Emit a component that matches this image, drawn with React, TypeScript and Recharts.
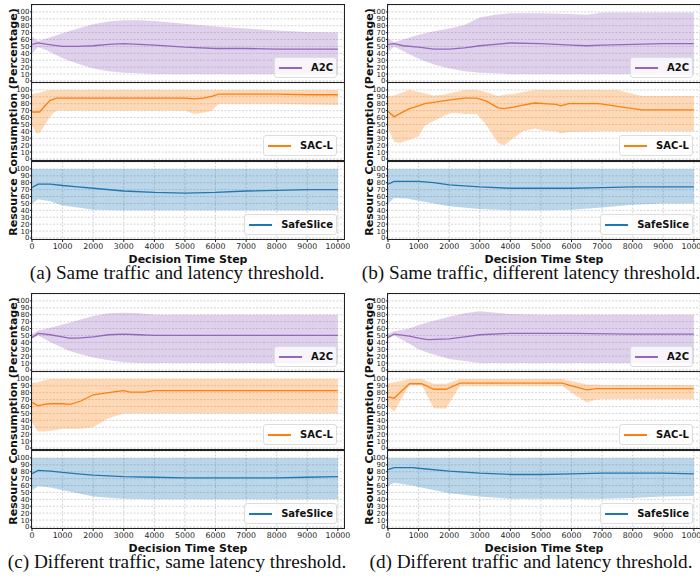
import React from "react";
import { ComposedChart, Area, Line, XAxis, YAxis, CartesianGrid } from "recharts";

/* -----------------------------
   Axis ticks
----------------------------- */
const xTicks = [0, 1000, 2000, 3000, 4000, 5000, 6000, 7000, 8000, 9000, 10000];
const yTicks = [0, 10, 20, 30, 40, 50, 60, 70, 80, 90, 100];

/* -----------------------------
   (a) same traffic and latency threshold
----------------------------- */
const aA2cSteps = [0, 200, 500, 1000, 1500, 2000, 2500, 3000, 3500, 4000, 5000, 6000, 7000, 8000, 9000, 10000];
const aA2cMean = [53, 55, 53, 50, 50, 51, 53, 54, 53, 52, 49, 47, 47, 46, 46, 46];
const aA2cLow = [40, 49, 44, 33, 25, 18, 14, 12, 11, 10, 10, 10, 10, 10, 10, 10];
const aA2cHigh = [64, 58, 62, 69, 76, 82, 86, 88, 88, 87, 83, 79, 76, 73, 71, 70];

const aSacSteps = [0, 150, 250, 400, 600, 800, 1000, 2000, 3000, 4000, 5000, 5300, 5600, 5900, 6100, 6300, 7000, 8000, 9000, 10000];
const aSacMean = [68, 68, 68, 76, 85, 88, 88, 88, 88, 88, 88, 87, 88, 91, 94, 94, 94, 94, 93, 93];
const aSacLow = [48, 37, 38, 48, 62, 70, 70, 70, 70, 70, 70, 65, 67, 70, 80, 80, 80, 80, 79, 78];
const aSacHigh = [94, 95, 96, 98, 100, 100, 100, 100, 100, 100, 100, 100, 100, 100, 100, 100, 100, 100, 100, 100];

const aSafeSteps = [0, 200, 600, 1000, 1500, 2000, 3000, 4000, 5000, 6000, 7000, 8000, 9000, 10000];
const aSafeMean = [73, 78, 78, 76, 74, 72, 68, 66, 65, 66, 68, 69, 70, 70];
const aSafeLow = [50, 56, 53, 47, 44, 41, 40, 40, 40, 40, 40, 40, 40, 40];
const aSafeHigh = [100, 100, 100, 100, 100, 100, 100, 100, 100, 100, 100, 100, 100, 100];

/* -----------------------------
   (b) same traffic, different latency threshold
----------------------------- */
const bA2cSteps = [0, 200, 500, 1000, 1500, 2000, 2500, 3000, 3500, 4000, 5000, 6000, 6500, 7000, 8000, 9000, 10000];
const bA2cMean = [53, 54, 51, 49, 46, 46, 48, 51, 53, 55, 54, 52, 51, 52, 53, 54, 54];
const bA2cLow = [42, 50, 43, 32, 24, 18, 14, 12, 11, 10, 10, 10, 10, 10, 10, 10, 10];
const bA2cHigh = [62, 56, 60, 67, 72, 76, 81, 92, 96, 98, 98, 97, 96, 99, 99, 99, 99];

const bSacSteps = [0, 200, 400, 700, 1000, 1200, 1500, 1800, 2100, 2500, 2900, 3200, 3600, 3800, 4100, 4400, 4800, 5100, 5500, 5650, 5900, 6900, 7500, 8300, 9000, 10000];
const bSacMean = [69, 61, 66, 73, 77, 80, 82, 84, 86, 88, 88, 84, 74, 73, 75, 78, 81, 80, 79, 77, 80, 80, 76, 71, 71, 71];
const bSacLow = [45, 25, 23, 28, 33, 48, 55, 62, 67, 65, 65, 50, 23, 20, 30, 40, 44, 41, 40, 37, 39, 40, 40, 40, 40, 40];
const bSacHigh = [91, 92, 95, 100, 97, 95, 92, 93, 96, 100, 100, 97, 91, 93, 94, 97, 100, 100, 100, 100, 100, 100, 100, 91, 91, 91];

const bSafeSteps = [0, 200, 600, 1000, 1500, 2000, 3000, 4000, 5000, 6000, 7000, 8000, 9000, 10000];
const bSafeMean = [78, 82, 82, 82, 80, 77, 74, 72, 72, 72, 73, 74, 74, 74];
const bSafeLow = [50, 58, 57, 54, 50, 46, 42, 40, 40, 41, 44, 48, 50, 50];
const bSafeHigh = [100, 100, 100, 100, 100, 100, 100, 100, 100, 100, 100, 100, 100, 100];

/* -----------------------------
   (c) different traffic, same latency threshold
----------------------------- */
const cA2cSteps = [0, 200, 600, 1000, 1200, 1500, 2000, 2500, 3000, 3500, 4000, 5000, 10000];
const cA2cMean = [47, 53, 51, 48, 46, 46, 48, 51, 52, 51, 50, 50, 50];
const cA2cLow = [45, 50, 40, 32, 28, 24, 18, 14, 11, 10, 10, 10, 10];
const cA2cHigh = [52, 57, 61, 66, 68, 72, 78, 82, 83, 82, 80, 80, 80];

const cSacSteps = [0, 200, 400, 600, 800, 1000, 1250, 1600, 2000, 2500, 3000, 3200, 3700, 4000, 10000];
const cSacMean = [66, 61, 63, 64, 64, 64, 63, 68, 77, 80, 83, 81, 81, 83, 83];
const cSacLow = [36, 24, 24, 25, 26, 28, 28, 28, 30, 43, 50, 50, 50, 50, 50];
const cSacHigh = [94, 95, 98, 100, 100, 100, 100, 100, 100, 100, 100, 100, 100, 100, 100];

const cSafeSteps = [0, 200, 600, 1000, 1500, 2000, 3000, 4000, 5000, 6000, 7000, 8000, 9000, 10000];
const cSafeMean = [77, 82, 81, 79, 77, 75, 73, 72, 71, 71, 71, 71, 72, 73];
const cSafeLow = [53, 59, 57, 53, 49, 44, 41, 40, 40, 40, 40, 40, 40, 40];
const cSafeHigh = [100, 100, 100, 100, 100, 100, 100, 100, 100, 100, 100, 100, 100, 100];

/* -----------------------------
   (d) different traffic and latency threshold
----------------------------- */
const dA2cSteps = [0, 200, 700, 1000, 1300, 2000, 2500, 3000, 4000, 5000, 6000, 8000, 10000];
const dA2cMean = [47, 52, 49, 46, 44, 45, 48, 51, 53, 53, 53, 52, 52];
const dA2cLow = [45, 50, 38, 30, 25, 16, 13, 10, 10, 10, 10, 10, 10];
const dA2cHigh = [52, 56, 60, 65, 69, 77, 82, 85, 81, 80, 80, 80, 80];

const dSacSteps = [0, 200, 700, 1100, 1500, 1900, 2350, 5700, 6000, 6500, 6800, 7000, 8000, 10000];
const dSacMean = [74, 72, 93, 93, 85, 85, 94, 94, 90, 84, 86, 86, 86, 86];
const dSacLow = [62, 52, 91, 91, 57, 57, 90, 90, 80, 66, 70, 71, 71, 71];
const dSacHigh = [93, 95, 100, 100, 93, 93, 100, 100, 97, 92, 92, 91, 91, 91];

const dSafeSteps = [0, 200, 800, 1000, 2000, 3000, 4000, 5000, 6000, 7000, 8000, 9000, 10000];
const dSafeMean = [83, 86, 86, 85, 81, 78, 76, 76, 77, 78, 78, 78, 77];
const dSafeLow = [59, 64, 60, 58, 49, 44, 41, 41, 41, 41, 42, 44, 45];
const dSafeHigh = [100, 100, 100, 100, 100, 100, 100, 100, 100, 100, 100, 100, 100];

/* -----------------------------
   Layout
----------------------------- */
const PLOT_W = 312;
const PANEL_H = 77;
const Y_W = 30;
const X_H = 14;
const RIGHT_M = 14;
const PANEL_OFFSETS = [0, 78, 157];

const PURPLE = "#9467bd";
const ORANGE = "#ff7f0e";
const BLUE = "#1f77b4";

const zip = (steps: number[], mean: number[], low: number[], high: number[]) =>
  steps.map((x, i) => ({ x, mean: mean[i], band: [low[i], high[i]] }));

const subplots = [
  {
    ox: 32,
    oy: 5,
    captionX: 177,
    caption: "(a) Same traffic and latency threshold.",
    panels: [
      { name: "A2C", color: PURPLE, data: zip(aA2cSteps, aA2cMean, aA2cLow, aA2cHigh) },
      { name: "SAC-L", color: ORANGE, data: zip(aSacSteps, aSacMean, aSacLow, aSacHigh) },
      { name: "SafeSlice", color: BLUE, data: zip(aSafeSteps, aSafeMean, aSafeLow, aSafeHigh) },
    ],
  },
  {
    ox: 388,
    oy: 5,
    captionX: 531,
    caption: "(b) Same traffic, different latency threshold.",
    panels: [
      { name: "A2C", color: PURPLE, data: zip(bA2cSteps, bA2cMean, bA2cLow, bA2cHigh) },
      { name: "SAC-L", color: ORANGE, data: zip(bSacSteps, bSacMean, bSacLow, bSacHigh) },
      { name: "SafeSlice", color: BLUE, data: zip(bSafeSteps, bSafeMean, bSafeLow, bSafeHigh) },
    ],
  },
  {
    ox: 32,
    oy: 294,
    captionX: 177,
    caption: "(c) Different traffic, same latency threshold.",
    panels: [
      { name: "A2C", color: PURPLE, data: zip(cA2cSteps, cA2cMean, cA2cLow, cA2cHigh) },
      { name: "SAC-L", color: ORANGE, data: zip(cSacSteps, cSacMean, cSacLow, cSacHigh) },
      { name: "SafeSlice", color: BLUE, data: zip(cSafeSteps, cSafeMean, cSafeLow, cSafeHigh) },
    ],
  },
  {
    ox: 388,
    oy: 294,
    captionX: 531,
    caption: "(d) Different traffic and latency threshold.",
    panels: [
      { name: "A2C", color: PURPLE, data: zip(dA2cSteps, dA2cMean, dA2cLow, dA2cHigh) },
      { name: "SAC-L", color: ORANGE, data: zip(dSacSteps, dSacMean, dSacLow, dSacHigh) },
      { name: "SafeSlice", color: BLUE, data: zip(dSafeSteps, dSafeMean, dSafeLow, dSafeHigh) },
    ],
  },
];

function Panel({ left, top, name, color, data, bottom }: any) {
  return (
    <div style={{ position: "absolute", left: left - Y_W, top, width: Y_W + PLOT_W + RIGHT_M, height: PANEL_H }}>
      <ComposedChart
        data={data}
        width={Y_W + PLOT_W + RIGHT_M}
        height={PANEL_H + (bottom ? X_H : 0)}
        margin={{ top: 0, right: RIGHT_M, bottom: 0, left: 0 }}
      >
        <CartesianGrid stroke="#c2c2c2" strokeDasharray="2 1.5" strokeWidth={0.7} />
        <XAxis
          type="number"
          dataKey="x"
          domain={[0, 10200]}
          ticks={xTicks}
          interval={0}
          allowDataOverflow
          height={bottom ? X_H : 0}
          tick={bottom ? { fontSize: 7.8, fill: "#222" } : false}
          tickLine={bottom ? { stroke: "#222" } : false}
          tickSize={3}
          tickMargin={1}
          axisLine={false}
        />
        <YAxis
          type="number"
          domain={[-1.5, 110]}
          ticks={yTicks}
          interval={0}
          allowDataOverflow
          width={Y_W}
          tick={{ fontSize: 7, fill: "#222" }}
          tickLine={{ stroke: "#222" }}
          tickSize={2}
          tickMargin={0.5}
          axisLine={false}
        />
        <Area
          dataKey="band"
          type="linear"
          stroke="none"
          fill={color}
          fillOpacity={0.3}
          isAnimationActive={false}
        />
        <Line
          dataKey="mean"
          type="linear"
          stroke={color}
          strokeWidth={1.3}
          dot={false}
          isAnimationActive={false}
        />
      </ComposedChart>
      <div
        style={{
          position: "absolute",
          left: Y_W - 1,
          top: -1,
          width: PLOT_W,
          height: PANEL_H,
          border: "1.3px solid #222",
          pointerEvents: "none",
        }}
      />
      <div
        style={{
          position: "absolute",
          right: RIGHT_M + 7,
          top: PANEL_H - 25,
          height: 19,
          display: "flex",
          alignItems: "center",
          padding: "0 3px 0 4px",
          background: "rgba(255,255,255,0.8)",
          border: "1px solid #ddd",
          borderRadius: 3,
        }}
      >
        <div style={{ width: 23, height: 2, background: color, marginRight: 9 }} />
        <span style={{ fontSize: 10, fontWeight: "bold", color: "#111" }}>{name}</span>
      </div>
    </div>
  );
}

export default function App() {
  return (
    <div
      style={{
        position: "fixed",
        left: 0,
        top: 0,
        width: 700,
        height: 582,
        overflow: "hidden",
        background: "#fff",
        fontFamily: "DejaVu Sans",
      }}
    >
      <style>{".recharts-surface { overflow: visible; }"}</style>
      {subplots.map((s, si) => (
        <React.Fragment key={si}>
          {s.panels.map((p, pi) => (
            <Panel
              key={pi}
              left={s.ox}
              top={s.oy + PANEL_OFFSETS[pi]}
              name={p.name}
              color={p.color}
              data={p.data}
              bottom={pi === 2}
            />
          ))}
          <div
            style={{
              position: "absolute",
              left: s.ox - 19,
              top: s.oy + 117,
              transform: "translate(-50%, -50%) rotate(-90deg)",
              whiteSpace: "nowrap",
              fontSize: 11,
              lineHeight: "13px",
              fontWeight: "bold",
              color: "#111",
            }}
          >
            Resource Consumption (Percentage)
          </div>
          <div
            style={{
              position: "absolute",
              left: s.ox + PLOT_W / 2 - 150,
              width: 300,
              top: s.oy + 248,
              textAlign: "center",
              fontSize: 11,
              lineHeight: "13px",
              fontWeight: "bold",
              color: "#111",
            }}
          >
            Decision Time Step
          </div>
          <div
            style={{
              position: "absolute",
              left: s.captionX - 250,
              width: 500,
              top: s.oy + 262,
              textAlign: "center",
              whiteSpace: "nowrap",
              fontSize: 18.5,
              lineHeight: "13px",
              fontFamily: "Liberation Serif",
              color: "#111",
              transform: "scaleX(1.04)",
            }}
          >
            {s.caption}
          </div>
        </React.Fragment>
      ))}
    </div>
  );
}
